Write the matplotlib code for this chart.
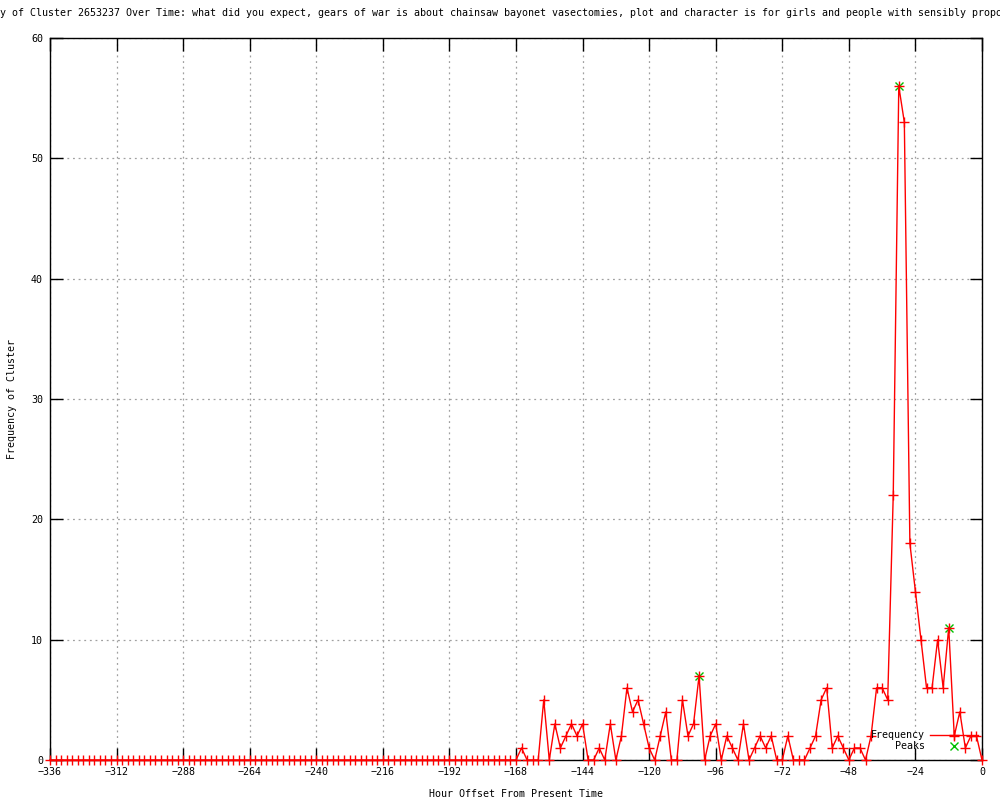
import numpy as np
import matplotlib
matplotlib.use("Agg")
import matplotlib.pyplot as plt

# hour offsets, every 2 hours from -336 to 0
hours = np.arange(-336, 1, 2)

freq_tail = [1, 0, 0, 0, 5, 0, 3, 1, 2, 3, 2, 3, 0, 0, 1, 0, 3, 0, 2, 6,
             4, 5, 3, 1, 0, 2, 4, 0, 0, 5, 2, 3, 7, 0, 2, 3, 0, 2, 1, 0,
             3, 0, 1, 2, 1, 2, 0, 0, 2, 0, 0, 0, 1, 2, 5, 6, 1, 2, 1, 0,
             1, 1, 0, 2, 6, 6, 5, 22, 56, 53, 18, 14, 10, 6, 6, 10, 6, 11, 2, 4,
             1, 2, 2, 0]
freq = [0] * (len(hours) - len(freq_tail)) + freq_tail

peak_hours = [-102, -30, -12]
peak_vals = [7, 56, 11]

title = ("Frequency of Cluster 2653237 Over Time: what did you expect, gears of war is about "
         "chainsaw bayonet vasectomies, plot and character is for girls and people with "
         "sensibly proportioned heads")

mono = "DejaVu Sans Mono"
fs = 7.2

fig = plt.figure(figsize=(10, 8), dpi=100)
ax = fig.add_axes([0.050, 0.05, 0.932, 0.9025])

ax.plot(peak_hours, peak_vals, linestyle="none", marker="x", color="#00c000",
        markersize=6, markeredgewidth=1, label="Peaks", zorder=3, clip_on=False)
ax.plot(hours, freq, color="red", linewidth=1, marker="+", markersize=7,
        markeredgewidth=1, label="Frequency", zorder=4, clip_on=False)

ax.set_xlim(-336, 0)
ax.set_ylim(0, 60)
ax.set_xticks(np.arange(-336, 1, 24))
ax.set_yticks(np.arange(0, 61, 10))
ax.grid(True, color="#a0a0a0", linestyle=(0, (1.5, 3)), linewidth=0.9)
ax.tick_params(direction="in", top=True, right=True, length=9, width=1,
               labelsize=fs, pad=5)
for lab in ax.get_xticklabels() + ax.get_yticklabels():
    lab.set_family(mono)
for s in ax.spines.values():
    s.set_linewidth(1)

ax.set_xlabel("Hour Offset From Present Time", family=mono, fontsize=fs, labelpad=9)
ax.set_ylabel("Frequency of Cluster", family=mono, fontsize=fs, labelpad=10)
ax.set_title(title, family=mono, fontsize=fs, pad=16)

handles, labels = ax.get_legend_handles_labels()
leg = ax.legend(handles[::-1], labels[::-1], loc="lower right", frameon=False,
                markerfirst=False, prop={"family": mono, "size": fs},
                handlelength=4.8, handletextpad=0.5, labelspacing=0.1,
                bbox_to_anchor=(1.005, 0.0))
for t in leg.get_texts():
    t.set_ha("right")

fig.savefig("out.png", dpi=100)
